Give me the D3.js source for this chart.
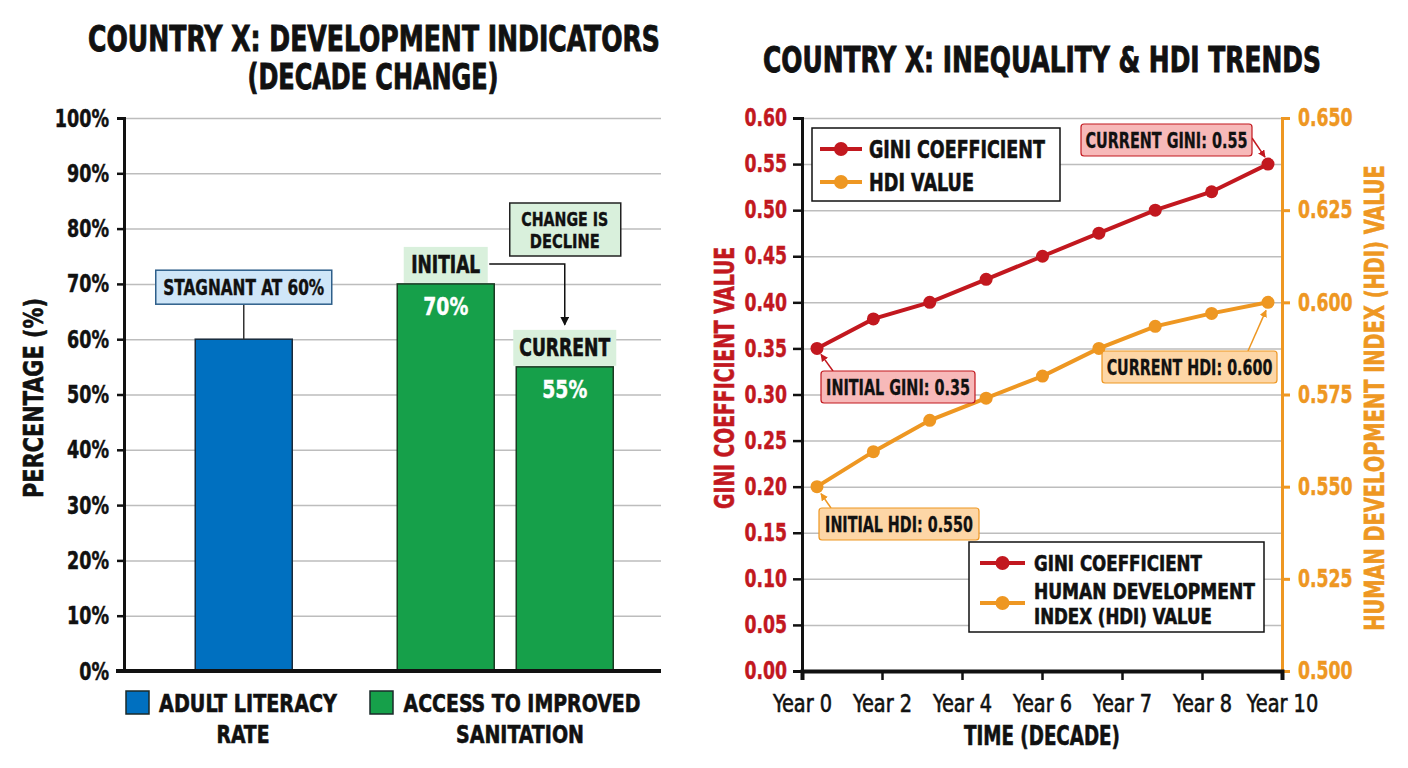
<!DOCTYPE html>
<html>
<head>
<meta charset="utf-8">
<script src="https://cdn.jsdelivr.net/npm/d3@7"></script>
<style>
  body { margin: 0; background: #fff; }
  svg text { font-family: "DejaVu Sans Condensed", "DejaVu Sans", sans-serif; font-weight: bold; }
  .grid line { stroke: #bdbdbd; stroke-width: 1.5; }
  .grid .domain { display: none; }
</style>
</head>
<body>
<svg id="chart" width="1408" height="768"></svg>
<script>
// ---- left chart data
var barGroups = ["ADULT LITERACY RATE", "ACCESS TO IMPROVED SANITATION"];
var literacyValues = [60];
var sanitationStages = ["INITIAL", "CURRENT"];
var sanitationValues = [70, 55];
var percentTicks = [0, 10, 20, 30, 40, 50, 60, 70, 80, 90, 100];

// ---- right chart data
var yearLabels = ["Year 0", "Year 2", "Year 4", "Year 6", "Year 7", "Year 8", "Year 10"];
var giniValues = [0.35, 0.382, 0.40, 0.425, 0.45, 0.475, 0.50, 0.52, 0.55];
var hdiValues = [0.550, 0.5595, 0.568, 0.574, 0.580, 0.5875, 0.5935, 0.597, 0.600];
var giniTicks = [0, 0.05, 0.10, 0.15, 0.20, 0.25, 0.30, 0.35, 0.40, 0.45, 0.50, 0.55, 0.60];
var hdiTicks = [0.500, 0.525, 0.550, 0.575, 0.600, 0.625, 0.650];

var blue = "#0070c0", green = "#16a04a", red = "#c2181f", orange = "#ee9722", ink = "#111";

var svg = d3.select("#chart");
var defs = svg.append("defs");
[["arrBlack", ink, 6], ["arrRed", red, 5], ["arrOrange", orange, 5]].forEach(function(m) {
  defs.append("marker").attr("id", m[0]).attr("viewBox", "0 0 10 10")
    .attr("refX", 9).attr("refY", 5).attr("markerWidth", m[2]).attr("markerHeight", m[2]).attr("orient", "auto")
    .append("path").attr("d", "M0,0L10,5L0,10z").attr("fill", m[1]);
});

// text helper: the reference type is a very narrow heavy face, so the
// glyph run is squeezed horizontally to width w and thickened a little
function label(str, x, y, size, o) {
  o = o || {};
  var fill = o.fill || ink;
  var t = svg.append("text")
    .attr("text-anchor", o.anchor || "middle")
    .style("font-size", size + "px")
    .attr("fill", fill)
    .attr("stroke", fill).attr("stroke-width", o.sw == null ? 0.6 : o.sw)
    .text(str);
  if (o.weight) t.style("font-weight", o.weight);
  var s = o.w ? o.w / t.node().getComputedTextLength() : 1;
  t.attr("transform", "translate(" + x + "," + y + ")" + (o.rot ? " rotate(" + o.rot + ")" : "") + " scale(" + s + ",1)");
  return t;
}
function squeeze(sel, f) {
  sel.each(function() {
    var t = d3.select(this);
    t.attr("x", (+t.attr("x") || 0) / f).attr("transform", "scale(" + f + ",1)");
  });
}

// ================= LEFT: bar chart =================
var L = {left: 124, right: 661, top: 118, bottom: 671};

label("COUNTRY X: DEVELOPMENT INDICATORS", 374, 51, 35, {w: 572, sw: 0.9});
label("(DECADE CHANGE)", 373, 89, 35, {w: 251, sw: 0.9});

var yPct = d3.scaleLinear().domain([0, 100]).range([L.bottom, L.top]);
var xGroup = d3.scaleBand().domain(barGroups).range([113, 636]);

svg.append("g").attr("class", "grid")
  .attr("transform", "translate(" + L.left + ",0)")
  .call(d3.axisLeft(yPct).tickValues(percentTicks.slice(1)).tickSize(-(L.right - L.left)).tickFormat(""));

var barG = svg.append("g");

// literacy bar
var litCenter = xGroup(barGroups[0]) + xGroup.bandwidth() / 2;
barG.selectAll(".lit").data(literacyValues).enter().append("rect")
  .attr("x", litCenter - 48.5).attr("width", 97)
  .attr("y", function(d) { return yPct(d); })
  .attr("height", function(d) { return yPct(0) - yPct(d); })
  .attr("fill", blue).attr("stroke", "#1a2a3a").attr("stroke-width", 1.5);

// sanitation bars
var sanCenter = xGroup(barGroups[1]) + xGroup.bandwidth() / 2;
var xStage = d3.scaleBand().domain(sanitationStages).range([sanCenter - 108, sanCenter + 108]).paddingInner(0.185);
barG.selectAll(".san").data(sanitationValues).enter().append("rect")
  .attr("x", function(d, i) { return xStage(sanitationStages[i]); })
  .attr("width", xStage.bandwidth())
  .attr("y", function(d) { return yPct(d); })
  .attr("height", function(d) { return yPct(0) - yPct(d); })
  .attr("fill", green).attr("stroke", "#1a3a22").attr("stroke-width", 1.5);

sanitationStages.forEach(function(s, i) {
  var cx = xStage(s) + xStage.bandwidth() / 2, top = yPct(sanitationValues[i]);
  var bw = i === 0 ? 84 : 103;
  svg.append("rect").attr("x", cx - bw / 2).attr("y", top - 37).attr("width", bw).attr("height", 36)
    .attr("fill", "#d9f0dc");
  label(s, cx, top - 11, 24, {w: i === 0 ? 69 : 91});
  label(sanitationValues[i] + "%", cx, top + 31, 25, {fill: "#fff", w: 45, sw: 0.4});
});

// stagnant callout
var litTop = yPct(literacyValues[0]);
svg.append("line").attr("x1", litCenter).attr("x2", litCenter).attr("y1", litTop - 35).attr("y2", litTop)
  .attr("stroke", "#333").attr("stroke-width", 1.5);
svg.append("rect").attr("x", litCenter - 88).attr("y", litTop - 69).attr("width", 176).attr("height", 34)
  .attr("fill", "#cfe6f8").attr("stroke", "#2e5f8a").attr("stroke-width", 1.5);
label("STAGNANT AT 60%", litCenter, litTop - 44, 21, {w: 161, sw: 0.4});

// change is decline callout + elbow arrow
var curCx = xStage("CURRENT") + xStage.bandwidth() / 2;
svg.append("path")
  .attr("d", "M" + (xStage("INITIAL") + xStage.bandwidth() - 5) + "," + (yPct(70) - 20) + "H" + curCx + "V" + (yPct(55) - 42))
  .attr("fill", "none").attr("stroke", ink).attr("stroke-width", 1.5).attr("marker-end", "url(#arrBlack)");
svg.append("rect").attr("x", curCx - 55).attr("y", 203).attr("width", 111).attr("height", 53)
  .attr("fill", "#d9f0dc").attr("stroke", "#222").attr("stroke-width", 1.5);
label("CHANGE IS", curCx, 226, 20, {w: 87, sw: 0.4});
label("DECLINE", curCx, 248, 20, {w: 70, sw: 0.4});

// axes
var yAxisL = svg.append("g").attr("transform", "translate(" + L.left + ",0)")
  .call(d3.axisLeft(yPct).tickValues(percentTicks).tickSize(7).tickPadding(8).tickFormat(function(d) { return d + "%"; }));
yAxisL.select(".domain").attr("stroke", ink).attr("stroke-width", 3);
yAxisL.selectAll(".tick line").attr("stroke", ink).attr("stroke-width", 2.5);
yAxisL.selectAll(".tick text").style("font-size", "25px").attr("fill", ink).attr("stroke", ink).attr("stroke-width", 0.5);
squeeze(yAxisL.selectAll(".tick text"), 0.78);
svg.append("line").attr("x1", L.left - 8).attr("x2", L.right).attr("y1", L.bottom).attr("y2", L.bottom)
  .attr("stroke", ink).attr("stroke-width", 4);

label("PERCENTAGE (%)", 43, 398, 26, {rot: -90, w: 200});

// bottom legend
var legendL = [
  {color: blue, lines: ["ADULT LITERACY", "RATE"], w: [178, 53], x: 126, cx: 248, cx2: 243},
  {color: green, lines: ["ACCESS TO IMPROVED", "SANITATION"], w: [237, 128], x: 370, cx: 522, cx2: 520}
];
legendL.forEach(function(d) {
  svg.append("rect").attr("x", d.x).attr("y", 691).attr("width", 23).attr("height", 23)
    .attr("fill", d.color).attr("stroke", "#1a2a2a").attr("stroke-width", 1.5);
  label(d.lines[0], d.cx, 712, 25, {w: d.w[0]});
  label(d.lines[1], d.cx2, 743, 25, {w: d.w[1]});
});

// ================= RIGHT: dual-axis line chart =================
var R = {left: 802, right: 1282, top: 118, bottom: 671};

label("COUNTRY X: INEQUALITY & HDI TRENDS", 1042, 72, 35, {w: 558, sw: 0.9});

var yGini = d3.scaleLinear().domain([0, 0.6]).range([R.bottom, R.top]);
var yHdi = d3.scaleLinear().domain([0.5, 0.65]).range([R.bottom, R.top]);
var xYear = d3.scalePoint().domain(yearLabels).range([R.left, R.right]);
var xIdx = d3.scaleLinear().domain([0, giniValues.length - 1]).range([817, 1268]);

svg.append("g").attr("class", "grid")
  .attr("transform", "translate(" + R.left + ",0)")
  .call(d3.axisLeft(yGini).tickValues(giniTicks.slice(1)).tickSize(-(R.right - R.left)).tickFormat(""));

var axG = svg.append("g").attr("transform", "translate(" + R.left + ",0)")
  .call(d3.axisLeft(yGini).tickValues(giniTicks).tickSize(9).tickPadding(6).tickFormat(d3.format(".2f")));
axG.select(".domain").attr("stroke", ink).attr("stroke-width", 3);
axG.selectAll(".tick line").attr("stroke", ink).attr("stroke-width", 2.5);
axG.selectAll(".tick text").style("font-size", "24px").attr("fill", red).attr("stroke", red).attr("stroke-width", 0.4);
squeeze(axG.selectAll(".tick text"), 0.8);

var axH = svg.append("g").attr("transform", "translate(" + R.right + ",0)")
  .call(d3.axisRight(yHdi).tickValues(hdiTicks).tickSize(8).tickPadding(8).tickFormat(d3.format(".3f")));
axH.select(".domain").attr("stroke", orange).attr("stroke-width", 3);
axH.selectAll(".tick line").attr("stroke", orange).attr("stroke-width", 3);
axH.selectAll(".tick text").style("font-size", "24px").attr("fill", orange).attr("stroke", orange).attr("stroke-width", 0.4);
squeeze(axH.selectAll(".tick text"), 0.8);

var axX = svg.append("g").attr("transform", "translate(0," + R.bottom + ")")
  .call(d3.axisBottom(xYear).tickSize(9).tickPadding(14));
axX.select(".domain").attr("stroke", ink).attr("stroke-width", 4);
axX.selectAll(".tick line").attr("stroke", ink).attr("stroke-width", 2.5);
axX.selectAll(".tick text").style("font-size", "25px").style("font-weight", "normal")
  .attr("fill", ink).attr("stroke", ink).attr("stroke-width", 0.6);
squeeze(axX.selectAll(".tick text"), 0.86);

label("TIME (DECADE)", 1042, 745, 26, {w: 156});
label("GINI COEFFICIENT VALUE", 734, 378, 27, {rot: -90, fill: red, w: 262});
label("HUMAN DEVELOPMENT INDEX (HDI) VALUE", 1384, 398, 27, {rot: -90, fill: orange, w: 466});

// lines
var giniLine = d3.line().x(function(d, i) { return xIdx(i); }).y(function(d) { return yGini(d); });
var hdiLine = d3.line().x(function(d, i) { return xIdx(i); }).y(function(d) { return yHdi(d); });
svg.append("path").datum(hdiValues).attr("d", hdiLine).attr("fill", "none").attr("stroke", orange).attr("stroke-width", 4);
svg.append("path").datum(giniValues).attr("d", giniLine).attr("fill", "none").attr("stroke", red).attr("stroke-width", 4);
svg.selectAll(".hdiPt").data(hdiValues).enter().append("circle")
  .attr("cx", function(d, i) { return xIdx(i); }).attr("cy", function(d) { return yHdi(d); })
  .attr("r", 6.5).attr("fill", orange);
svg.selectAll(".giniPt").data(giniValues).enter().append("circle")
  .attr("cx", function(d, i) { return xIdx(i); }).attr("cy", function(d) { return yGini(d); })
  .attr("r", 6.5).attr("fill", red);

// annotations
function callout(txt, bx, by, bw, tw, fill, stroke, a, marker) {
  svg.append("line").attr("x1", a[0]).attr("y1", a[1]).attr("x2", a[2]).attr("y2", a[3])
    .attr("stroke", stroke).attr("stroke-width", 1.5).attr("marker-end", "url(#" + marker + ")");
  svg.append("rect").attr("x", bx).attr("y", by).attr("width", bw).attr("height", 32).attr("rx", 3)
    .attr("fill", fill).attr("stroke", stroke).attr("stroke-width", 1.2);
  label(txt, bx + bw / 2, by + 24, 21, {w: tw, sw: 0.3});
}
var n = giniValues.length - 1;
callout("CURRENT GINI: 0.55", 1081, 124, 171, 162, "#f7b9b9", red,
  [1252, 138, xIdx(n) - 3, yGini(giniValues[n]) - 7], "arrRed");
callout("INITIAL GINI: 0.35", 821, 371, 154, 144, "#f7b9b9", red,
  [833, 371, xIdx(0) + 4, yGini(giniValues[0]) + 6], "arrRed");
callout("INITIAL HDI: 0.550", 819, 508, 160, 148, "#fdd6a6", orange,
  [831, 508, xIdx(0) + 4, yHdi(hdiValues[0]) + 7], "arrOrange");
callout("CURRENT HDI: 0.600", 1102, 351, 175, 166, "#fdd6a6", orange,
  [1248, 351, xIdx(n) - 2, yHdi(hdiValues[n]) + 8], "arrOrange");

// legends
function legend(x, y, w, h, items) {
  svg.append("rect").attr("x", x).attr("y", y).attr("width", w).attr("height", h)
    .attr("fill", "#fff").attr("stroke", ink).attr("stroke-width", 1.5);
  items.forEach(function(it) {
    svg.append("line").attr("x1", x + it.lx[0]).attr("x2", x + it.lx[1]).attr("y1", it.y).attr("y2", it.y)
      .attr("stroke", it.color).attr("stroke-width", 4);
    svg.append("circle").attr("cx", x + (it.lx[0] + it.lx[1]) / 2).attr("cy", it.y).attr("r", 7).attr("fill", it.color);
    it.lines.forEach(function(t, k) {
      label(t, x + it.tx, it.ty[k], it.fs, {anchor: "start", w: it.w[k]});
    });
  });
}
legend(812, 128, 248, 73, [
  {color: red, y: 149, lx: [8, 50], tx: 57, ty: [158], lines: ["GINI COEFFICIENT"], w: [176], fs: 25},
  {color: orange, y: 182, lx: [8, 50], tx: 57, ty: [191], lines: ["HDI VALUE"], w: [105], fs: 25}
]);
legend(969, 542, 295, 90, [
  {color: red, y: 563, lx: [11, 56], tx: 65, ty: [571], lines: ["GINI COEFFICIENT"], w: [168], fs: 22},
  {color: orange, y: 603, lx: [11, 56], tx: 65, ty: [599, 624], lines: ["HUMAN DEVELOPMENT", "INDEX (HDI) VALUE"], w: [221, 178], fs: 21}
]);
</script>
</body>
</html>
